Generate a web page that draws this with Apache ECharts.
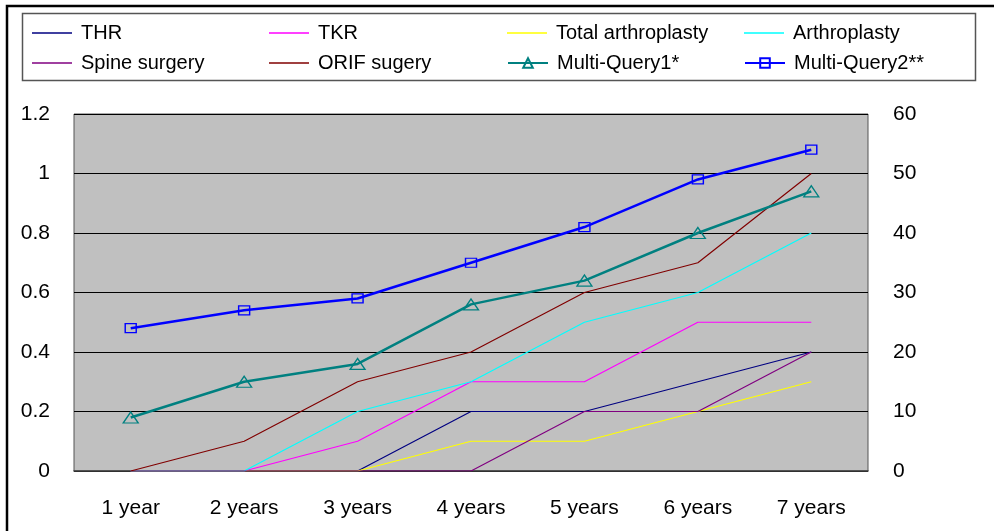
<!DOCTYPE html>
<html>
<head>
<meta charset="utf-8">
<script src="https://cdn.jsdelivr.net/npm/echarts@6/dist/echarts.min.js"></script>
<style>html,body{margin:0;padding:0;background:#fff;}#c{width:994px;height:531px;}</style>
</head>
<body>
<div id="c"></div>
<script>
const categories = ['1 year','2 years','3 years','4 years','5 years','6 years','7 years'];
const thr = [0, 0, 0, 0.2, 0.2, 0.3, 0.4];
const tkr = [0, 0, 0.1, 0.3, 0.3, 0.5, 0.5];
const totalArthro = [0, 0, 0, 0.1, 0.1, 0.2, 0.3];
const arthro = [0, 0, 0.2, 0.3, 0.5, 0.6, 0.8];
const spine = [0, 0, 0, 0, 0.2, 0.2, 0.4];
const orif = [0, 0.1, 0.3, 0.4, 0.6, 0.7, 1.0];
const mq1 = [9, 15, 18, 28, 32, 40, 47];
const mq2 = [24, 27, 29, 35, 41, 49, 54];
const leftTicks = {min: 0, max: 1.2, interval: 0.2};
const rightTicks = {min: 0, max: 60, interval: 10};

const FONT = 'Liberation Sans, Arial, sans-serif';

function thin(name, data, color) {
  return {name, type: 'line', data, yAxisIndex: 0, symbol: 'none',
    lineStyle: {color, width: 1.2}, itemStyle: {color}, z: 3};
}
const series = [
  thin('THR', thr, '#000080'),
  thin('TKR', tkr, '#FF00FF'),
  thin('Total arthroplasty', totalArthro, '#FFFF00'),
  thin('Arthroplasty', arthro, '#00FFFF'),
  thin('Spine surgery', spine, '#800080'),
  thin('ORIF sugery', orif, '#800000'),
  {name: 'Multi-Query1*', type: 'line', data: mq1, yAxisIndex: 1, symbol: 'triangle',
    symbolSize: [15, 11], showAllSymbol: true,
    lineStyle: {color: '#008080', width: 2.5},
    itemStyle: {color: 'rgba(0,0,0,0)', borderColor: '#008080', borderWidth: 1.3}, z: 4},
  {name: 'Multi-Query2**', type: 'line', data: mq2, yAxisIndex: 1, symbol: 'rect',
    symbolSize: [11, 9], showAllSymbol: true,
    lineStyle: {color: '#0000FF', width: 2.5},
    itemStyle: {color: 'rgba(0,0,0,0)', borderColor: '#0000FF', borderWidth: 1.3}, z: 5}
];

const legendPos = [
  ['THR', 32, 22, true], ['TKR', 269, 22, true], ['Total arthroplasty', 507, 22, true], ['Arthroplasty', 744, 22, true],
  ['Spine surgery', 32, 52, true], ['ORIF sugery', 269, 52, true], ['Multi-Query1*', 507, 52, false], ['Multi-Query2**', 744, 52, false]
];
const legends = legendPos.map(([n, x, y, isThin]) => {
  const base = {
    data: [n], left: x, top: y, padding: 0, itemWidth: 40, itemHeight: 12,
    selectedMode: false,
    textStyle: {fontFamily: FONT, fontSize: 20, color: '#000', padding: [0, 0, 0, 4], lineHeight: 22}
  };
  if (isThin) { base.icon = 'rect'; base.itemHeight = 1.5; }
  return base;
});

const chart = echarts.init(document.getElementById('c'), null, {renderer: 'canvas'});
chart.setOption({
  animation: false,
  backgroundColor: '#fff',
  textStyle: {fontFamily: FONT},
  graphic: [
    {type: 'rect', shape: {x: 7, y: 6, width: 1100, height: 700}, style: {fill: 'none', stroke: '#000', lineWidth: 2.5}, z: 100, silent: true},
    {type: 'rect', shape: {x: 22.5, y: 13.5, width: 953, height: 67}, style: {fill: 'none', stroke: '#555', lineWidth: 1.5}, z: 100, silent: true}
  ],
  legend: legends,
  grid: {left: 74, right: 126, top: 114, bottom: 60, show: true, backgroundColor: '#C0C0C0', borderColor: '#555', borderWidth: 1},
  xAxis: {
    type: 'category', data: categories, boundaryGap: true,
    axisLine: {lineStyle: {color: '#404040', width: 1.5}},
    axisTick: {inside: true, length: 7, lineStyle: {color: '#404040'}},
    axisLabel: {fontFamily: FONT, fontSize: 21, color: '#000', margin: 27},
    splitLine: {show: false}
  },
  yAxis: [
    {type: 'value', min: leftTicks.min, max: leftTicks.max, interval: leftTicks.interval,
      axisLine: {show: false}, axisTick: {show: false},
      axisLabel: {fontFamily: FONT, fontSize: 21, color: '#000', margin: 24},
      splitLine: {lineStyle: {color: '#000', width: 1}}},
    {type: 'value', min: rightTicks.min, max: rightTicks.max, interval: rightTicks.interval,
      axisLine: {show: false}, axisTick: {show: false},
      axisLabel: {fontFamily: FONT, fontSize: 21, color: '#000', margin: 25},
      splitLine: {show: false}}
  ],
  series
});
</script>
</body>
</html>
